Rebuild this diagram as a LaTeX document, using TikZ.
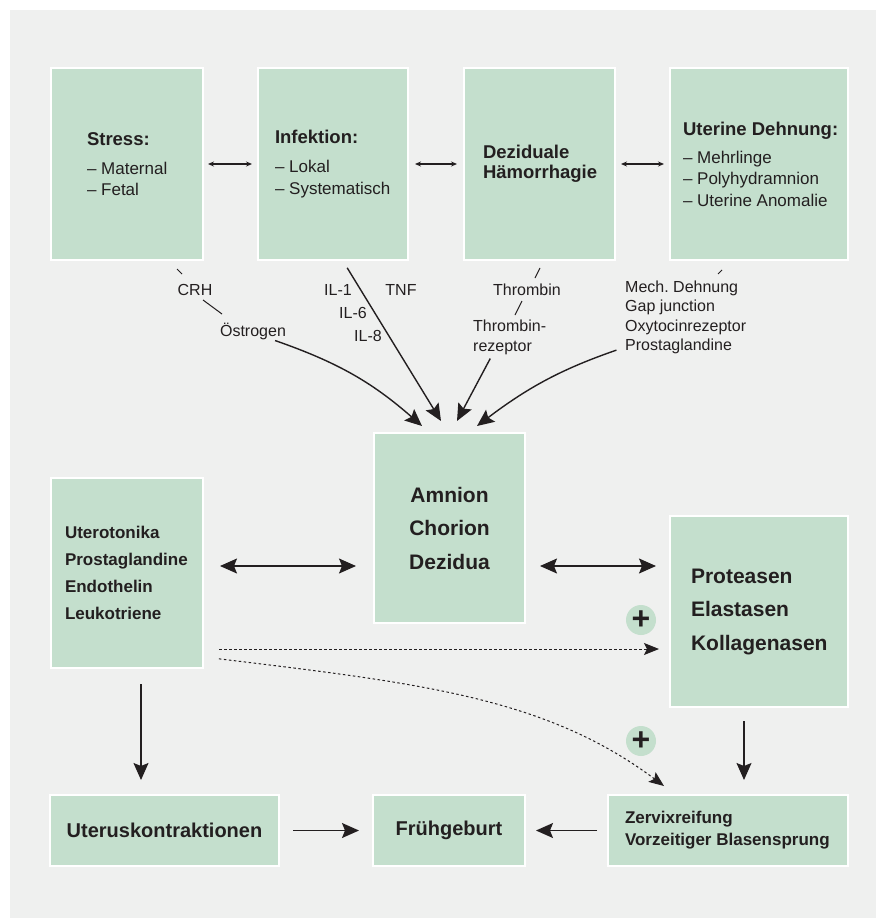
\documentclass[tikz,border=0pt]{standalone}
\usepackage{fontspec}
\setmainfont{Liberation Sans}
\usetikzlibrary{arrows.meta}
\definecolor{bggray}{RGB}{239,240,239}
\definecolor{boxgreen}{RGB}{196,223,205}
\definecolor{ink}{RGB}{35,31,32}

\begin{document}
\begin{tikzpicture}[x=1pt, y=-1pt,
    box/.style={fill=boxgreen, draw=white, line width=2pt, text=ink, inner ysep=0pt,
        execute at begin node={\hyphenpenalty=10000\exhyphenpenalty=10000}},
    lbl/.style={font=\fontsize{16}{19.5}\selectfont, text=ink, inner sep=1pt, align=flush left},
    plus/.style={circle, fill=boxgreen, minimum size=30pt, inner sep=0pt, text=ink,
        font=\fontsize{32}{32}\selectfont\bfseries},
    sm/.style={line width=1.2pt, draw=ink, {Stealth[length=6pt,width=5pt]}-{Stealth[length=6pt,width=5pt]}},
    big/.style={line width=1.4pt, draw=ink, -{Stealth[length=17pt,width=15pt,inset=3pt]}},
    bigboth/.style={line width=1.4pt, draw=ink,
        {Stealth[length=17pt,width=15pt,inset=3pt]}-{Stealth[length=17pt,width=15pt,inset=3pt]}},
    dots/.style={line width=1pt, draw=ink, dash pattern=on 2.5pt off 2.5pt,
        -{Stealth[length=15pt,width=12pt,inset=3pt]}},
    tick/.style={line width=1pt, draw=ink}]

    \fill[white] (0,0) rectangle (876,918);
    \fill[bggray] (10,10) rectangle (876,918);
    \useasboundingbox (0,0) rectangle (876,918);

    % top row
    \node[box, align=flush left, minimum width=152pt, minimum height=192pt, text width=80pt, inner xsep=36pt,
        font=\fontsize{17}{21.5}\selectfont] (stress) at (127,164)
        {{\fontsize{18.5}{21.5}\selectfont\bfseries Stress:}\\[7.5pt]\mbox{– Maternal}\\– Fetal};
    \node[box, align=flush left, minimum width=150pt, minimum height=192pt, text width=116pt, inner xsep=17pt,
        font=\fontsize{17}{21.5}\selectfont] (infekt) at (333,164)
        {{\fontsize{18.5}{21.5}\selectfont\bfseries Infektion:}\\[7.5pt]– Lokal\\\mbox{– Systematisch}};
    \node[box, align=flush left, minimum width=151pt, minimum height=192pt, text width=113pt, inner xsep=19pt,
        font=\fontsize{18.5}{20}\selectfont\bfseries] (dez) at (539.5,164)
        {Deziduale\\Hämorrhagie};
    \node[box, align=flush left, minimum width=178pt, minimum height=192pt, text width=152pt, inner xsep=13pt,
        font=\fontsize{17}{21.5}\selectfont] (uterin) at (759,164)
        {{\fontsize{18.5}{21.5}\selectfont\bfseries\mbox{Uterine Dehnung:}}\\[6.5pt]– Mehrlinge\\– Polyhydramnion\\\mbox{– Uterine Anomalie}};

    \draw[sm, shorten <=4pt, shorten >=5pt] (stress) -- (infekt);
    \draw[sm, shorten <=6pt, shorten >=6pt] (infekt) -- (dez);
    \draw[sm, shorten <=5pt, shorten >=5pt] (dez) -- (uterin);

    % mediators
    \node[lbl] (crh) at (195,290) {CRH};
    \node[lbl] (oestr) at (253,331) {Östrogen};
    \node[lbl] (il1) at (338,290) {IL-1};
    \node[lbl] (il6) at (353,313) {IL-6};
    \node[lbl] (il8) at (368,336) {IL-8};
    \node[lbl] (tnf) at (401,290) {TNF};
    \node[lbl] (thromb) at (527,290) {Thrombin};
    \node[lbl, anchor=west] (thrombrez) at (472,337.5) {Thrombin-\\rezeptor};
    \node[lbl, anchor=west] (dehn) at (624,317.5) {Mech.\ Dehnung\\Gap junction\\Oxytocinrezeptor\\Prostaglandine};

    \draw[tick] ([shift={(50,8)}]stress.south) -- ++(5,5);
    \draw[tick] ([shift={(8,10)}]crh.center) -- ++(19,14);
    \draw[tick] ([shift={(0.5,7)}]dez.south) -- ++(-5,10);
    \draw[tick] ([shift={(-5,11)}]thromb.center) -- ++(-7,14);
    \draw[tick] ([shift={(-37,9)}]uterin.south) -- ++(-4,4);

    % middle row
    \node[box, align=center, minimum width=151pt, minimum height=190pt,
        font=\fontsize{21}{33.5}\selectfont\bfseries] (amnion) at (449.5,528)
        {Amnion\\Chorion\\Dezidua};
    \node[box, align=flush left, minimum width=152pt, minimum height=190pt, text width=124pt, inner xsep=14pt,
        font=\fontsize{17}{27}\selectfont\bfseries] (utero) at (127,573)
        {Uterotonika\\Prostaglandine\\Endothelin\\Leukotriene};
    \node[box, align=flush left, minimum width=178pt, minimum height=191pt, text width=136pt, inner xsep=21pt,
        font=\fontsize{21}{33.5}\selectfont\bfseries] (prot) at (759,611.5)
        {Proteasen\\Elastasen\\Kollagenasen};

    \draw[big] ([xshift=-12pt]oestr.south east) to[bend left=11] ([xshift=-27.5pt,yshift=6pt]amnion.north);
    \draw[big, shorten <=8pt] ([xshift=10pt]infekt.south) -- ([xshift=-8.5pt,yshift=11pt]amnion.north);
    \draw[big, shorten <=3pt] ([xshift=-18pt]thrombrez.south) -- ([xshift=7.5pt,yshift=11pt]amnion.north);
    \draw[big, shorten <=8pt] ([yshift=-30pt]dehn.west) to[bend right=9] ([xshift=27.5pt,yshift=6pt]amnion.north);

    \draw[bigboth, shorten <=16pt, shorten >=17pt] (utero.east |- 0,566) -- (amnion.west |- 0,566);
    \draw[bigboth, shorten <=14pt, shorten >=13pt] (amnion.east |- 0,566) -- (prot.west |- 0,566);

    \node[plus] (plusA) at (641,620) {+};
    \node[plus] (plusB) at (641,741) {+};

    % bottom row
    \node[box, align=center, minimum width=229pt, minimum height=71pt,
        font=\fontsize{20}{24}\selectfont\bfseries] (uterus) at (164.5,830.5) {Uteruskontraktionen};
    \node[box, align=center, minimum width=152pt, minimum height=71pt,
        font=\fontsize{20}{24}\selectfont\bfseries] (frueh) at (449,830.5) {Frühgeburt};
    \node[box, align=flush left, minimum width=240pt, minimum height=71pt, text width=206pt, inner xsep=17pt,
        font=\fontsize{17}{22}\selectfont\bfseries] (zervix) at (728,830.5)
        {Zervixreifung\\\mbox{Vorzeitiger Blasensprung}};

    \draw[dots, shorten <=15pt, shorten >=10pt] (utero.east |- 0,649) -- (prot.west |- 0,649);
    \draw[dots, shorten <=15pt] (utero.east |- 0,657) .. controls (418,683) and (545,697) .. ([shift={(57,-8)}]zervix.north west);

    \draw[big, shorten <=15pt, shorten >=14pt] (utero.south -| 141,0) -- (uterus.north -| 141,0);
    \draw[big, shorten <=13pt, shorten >=14pt] (prot.south -| 744,0) -- (zervix.north -| 744,0);
    \draw[big, shorten <=13pt, shorten >=13pt] (uterus) -- (frueh);
    \draw[big, shorten <=10pt, shorten >=10pt] (zervix) -- (frueh);

\end{tikzpicture}
\end{document}
